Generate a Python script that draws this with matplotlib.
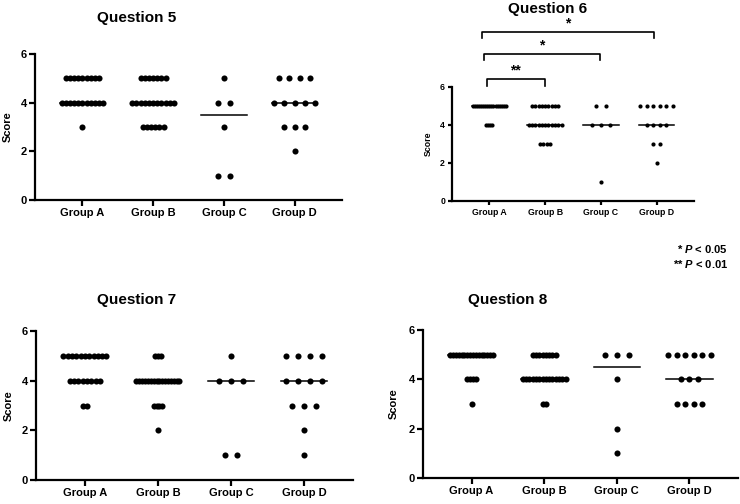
import numpy as np
import matplotlib
matplotlib.use('Agg')
import matplotlib.pyplot as plt

plt.rcParams['font.family'] = ['Liberation Sans', 'DejaVu Sans']
plt.rcParams['mathtext.fontset'] = 'custom'
plt.rcParams['mathtext.it'] = 'Liberation Sans:italic:bold'
plt.rcParams['mathtext.rm'] = 'Liberation Sans:bold'

groups = ['Group A', 'Group B', 'Group C', 'Group D']

# scores per group
q5 = [[5]*9 + [4]*11 + [3]*1,
      [5]*7 + [4]*11 + [3]*6,
      [5]*1 + [4]*2 + [3]*1 + [1]*2,
      [5]*4 + [4]*5 + [3]*3 + [2]*1]
q6 = [[5]*17 + [4]*4,
      [5]*9 + [4]*11 + [3]*4,
      [5]*2 + [4]*3 + [1]*1,
      [5]*6 + [4]*4 + [3]*2 + [2]*1]
q7 = [[5]*11 + [4]*8 + [3]*2,
      [5]*3 + [4]*16 + [3]*4 + [2]*1,
      [5]*1 + [4]*3 + [1]*2,
      [5]*4 + [4]*4 + [3]*3 + [2]*1 + [1]*1]
q8 = [[5]*16 + [4]*4 + [3]*1,
      [5]*8 + [4]*14 + [3]*2,
      [5]*3 + [4]*1 + [2]*1 + [1]*1,
      [5]*6 + [4]*3 + [3]*4]

# significance for question 6: (group i, group j, label)
q6_sig = [(0, 1, '**'), (0, 2, '*'), (0, 3, '*')]


def swarm_x(vals, center, base=0.167, maxw=0.59):
    vals = np.array(vals)
    levels, counts = np.unique(vals, return_counts=True)
    nmax = counts.max()
    s = base if nmax < 2 else min(base, maxw / (nmax - 1))
    xs, ys = [], []
    for lv, n in zip(levels, counts):
        off = (np.arange(n) - (n - 1) / 2) * s
        xs.extend(center + off)
        ys.extend([lv] * n)
    return np.array(xs), np.array(ys)


def draw_panel(ax, data, ms, fs, tick_len, lab_x):
    for i, vals in enumerate(data):
        med = np.median(vals)
        ax.plot([i - 0.32, i + 0.32], [med, med], color='black', lw=1.1, zorder=2)
        x, y = swarm_x(vals, i)
        ax.scatter(x, y, s=ms**2, color='black', linewidths=0, zorder=3, clip_on=False)
    ax.set_xlim(-0.67, 3.67)
    ax.set_ylim(0, 6)
    ax.set_yticks([0, 2, 4, 6])
    ax.set_xticks(range(4))
    ax.set_xticklabels(groups, fontweight='bold', fontsize=fs)
    for lab in ax.get_yticklabels():
        lab.set_fontweight('bold')
        lab.set_fontsize(fs)
    ax.set_ylabel('Score', fontweight='bold', fontsize=fs)
    ax.yaxis.set_label_coords(lab_x, 0.5)
    for sp in ['top', 'right']:
        ax.spines[sp].set_visible(False)
    for sp in ['left', 'bottom']:
        ax.spines[sp].set_linewidth(1.6)
    ax.tick_params(width=1.6, length=tick_len, pad=2)


fig = plt.figure(figsize=(7.4, 5.04), dpi=100)

ax5 = fig.add_axes([0.0473, 0.6032, 0.4149, 0.2897])
ax6 = fig.add_axes([0.6108, 0.6012, 0.3270, 0.2262])
ax7 = fig.add_axes([0.0486, 0.0476, 0.4284, 0.2956])
ax8 = fig.add_axes([0.5716, 0.0516, 0.4257, 0.2937])

draw_panel(ax5, q5, 4.4, 8, 4, -0.072)
draw_panel(ax6, q6, 3.0, 6.3, 3, -0.078)
draw_panel(ax7, q7, 4.4, 8, 4, -0.070)
draw_panel(ax8, q8, 4.4, 8, 4, -0.077)

fig.text(137 / 740, 1 - 18 / 504, 'Question 5', ha='center', va='center', fontsize=11, fontweight='bold')
fig.text(548 / 740, 1 - 9 / 504, 'Question 6', ha='center', va='center', fontsize=11, fontweight='bold')
fig.text(137 / 740, 1 - 300 / 504, 'Question 7', ha='center', va='center', fontsize=11, fontweight='bold')
fig.text(508 / 740, 1 - 300 / 504, 'Question 8', ha='center', va='center', fontsize=11, fontweight='bold')

# brackets above question 6
heights = [(6.05, 6.42), (7.42, 7.74), (8.58, 8.9)]
left_off = [-0.05, -0.09, -0.13]
right_off = [0.0, -0.02, -0.05]
for k, (i, j, lab) in enumerate(q6_sig):
    lo, hi = heights[k]
    x0 = i + left_off[k]
    x1 = j + right_off[k]
    ax6.plot([x0, x0, x1, x1], [lo, hi, hi, lo], color='black', lw=1.2, clip_on=False)
    ax6.text((x0 + x1) / 2, hi + 0.08, lab, ha='center', va='bottom', fontsize=10,
             fontweight='bold')

fig.text(728 / 740, 1 - 249 / 504, '* $P$ < 0.05', ha='right', va='center', fontsize=8, fontweight='bold')
fig.text(728 / 740, 1 - 264 / 504, '** $P$ < 0.01', ha='right', va='center', fontsize=8, fontweight='bold')

fig.savefig('out.png', dpi=100)
